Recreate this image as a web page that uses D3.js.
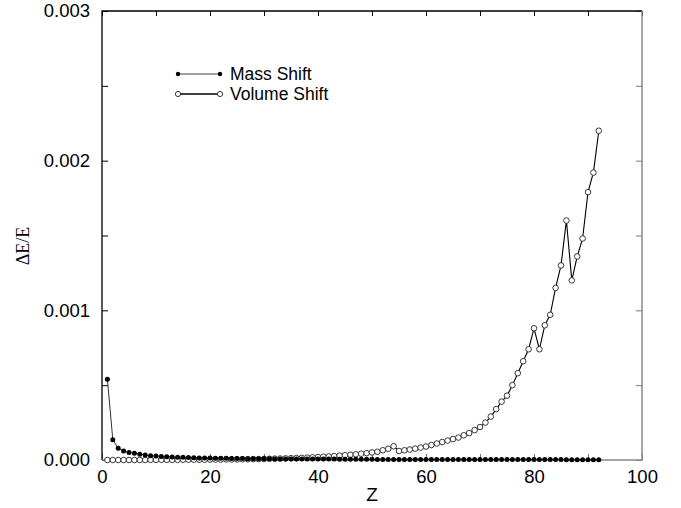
<!DOCTYPE html>
<meta charset="utf-8">
<style>
body { margin: 0; background: #fff; }
.tick text { font: 18.5px "Liberation Sans", Arial, sans-serif; fill: #000; }
.legend text { font: 17.5px "Liberation Sans", Arial, sans-serif; fill: #000; }
</style>
<svg width="681" height="508" id="chart"></svg>
<script src="https://d3js.org/d3.v7.min.js"></script>
<script>

// atomic number
var Z = [1,2,3,4,5,6,7,8,9,10,11,12,13,14,15,16,17,18,19,20,
  21,22,23,24,25,26,27,28,29,30,31,32,33,34,35,36,37,38,39,40,
  41,42,43,44,45,46,47,48,49,50,51,52,53,54,55,56,57,58,59,60,
  61,62,63,64,65,66,67,68,69,70,71,72,73,74,75,76,77,78,79,80,
  81,82,83,84,85,86,87,88,89,90,91,92];

// dE/E in units of 1e-6
var massShift = [540,136,78,60,50,45,39,34,29,27,24,22,20,19,18,17,15,14,14,14,
  12,11,11,10,10,10,9,9,9,8,8,7,7,7,7,6,6,6,6,6,
  6,6,6,5,5,5,5,5,5,5,4,4,4,4,4,4,4,4,4,4,
  4,4,4,3,3,3,3,3,3,3,3,3,3,3,3,3,3,3,3,3,
  3,3,3,3,3,2,2,2,2,2,2,2];

var volumeShift = [0,0,0,0,0,0,0,0,1,1,1,1,1,1,2,2,2,2,2,3,
  3,3,4,4,4,5,5,6,6,7,8,9,10,11,12,13,14,16,18,20,
  22,24,26,29,32,35,38,42,46,50,55,65,75,92,60,65,70,76,83,90,
  100,110,120,130,140,150,165,180,200,220,250,290,340,390,430,500,580,660,740,880,
  740,900,970,1150,1300,1600,1200,1360,1480,1790,1920,2200];

var xTicks = [0,10,20,30,40,50,60,70,80,90,100];
var yTicks = [0,500,1000,1500,2000,2500,3000];

var svg = d3.select("svg");

var x = d3.scaleLinear().domain([0, 100]).range([102, 642]);
var y = d3.scaleLinear().domain([0, 3000]).range([460, 11]);

function yFmt(d) { return d % 1000 ? "" : (d / 1e6).toFixed(3); }
function xFmt(d) { return d % 20 ? "" : d; }

// axes, ticks pointing inward
svg.append("g")
    .attr("transform", "translate(0,460)")
    .call(d3.axisBottom(x).tickValues(xTicks).tickSize(-6).tickPadding(10).tickFormat(xFmt))
    .call(g => g.select(".domain").remove())
    .call(g => g.selectAll("line").attr("stroke", "#777"));

svg.append("g")
    .attr("transform", "translate(0,11)")
    .call(d3.axisTop(x).tickValues(xTicks).tickSize(-5).tickFormat(""))
    .call(g => g.select(".domain").remove());

svg.append("g")
    .attr("transform", "translate(102,0)")
    .call(d3.axisLeft(y).tickValues(yTicks).tickSize(-6).tickPadding(12).tickFormat(yFmt))
    .call(g => g.select(".domain").remove());

svg.append("g")
    .attr("transform", "translate(642,0)")
    .call(d3.axisRight(y).tickValues(yTicks).tickSize(-6).tickFormat(""))
    .call(g => g.select(".domain").remove())
    .call(g => g.selectAll("line").attr("stroke", "#777"));

// frame
svg.append("path")
    .attr("d", "M102,460V11H642")
    .attr("fill", "none").attr("stroke", "#000").attr("stroke-width", 1.3);
svg.append("path")
    .attr("d", "M102,460H642V11")
    .attr("fill", "none").attr("stroke", "#888").attr("stroke-width", 1.5);

// axis titles
svg.append("text")
    .attr("x", 372).attr("y", 501)
    .attr("text-anchor", "middle")
    .style("font", "19px 'Liberation Sans', Arial, sans-serif")
    .text("Z");

svg.append("text")
    .attr("transform", "translate(29,246) rotate(-90)")
    .attr("text-anchor", "middle")
    .style("font", "18px 'Liberation Serif', 'Times New Roman', serif")
    .text("ΔE/E");

var line = d3.line()
    .x(function(d) { return x(d[0]); })
    .y(function(d) { return y(d[1]); });

var volData = Z.map(function(z, i) { return [z, volumeShift[i]]; });
var massData = Z.map(function(z, i) { return [z, massShift[i]]; });

// volume shift
svg.append("path")
    .datum(volData)
    .attr("d", line)
    .attr("fill", "none").attr("stroke", "#000").attr("stroke-width", 1.1);
svg.append("g").selectAll("circle")
    .data(volData)
    .enter().append("circle")
      .attr("cx", function(d) { return x(d[0]); })
      .attr("cy", function(d) { return y(d[1]); })
      .attr("r", 2.8)
      .attr("fill", "#fff").attr("stroke", "#222").attr("stroke-width", 0.9);

// mass shift
svg.append("path")
    .datum(massData)
    .attr("d", line)
    .attr("fill", "none").attr("stroke", "#333").attr("stroke-width", 1);
svg.append("g").selectAll("circle")
    .data(massData)
    .enter().append("circle")
      .attr("cx", function(d) { return x(d[0]); })
      .attr("cy", function(d) { return y(d[1]); })
      .attr("r", 2.5)
      .attr("fill", "#000");

// legend
var legend = svg.append("g").attr("class", "legend");
var items = [
  {label: "Mass Shift", y: 74, open: false},
  {label: "Volume Shift", y: 94, open: true}
];
items.forEach(function(it) {
  legend.append("line")
      .attr("x1", 178).attr("x2", 220).attr("y1", it.y).attr("y2", it.y)
      .attr("stroke", it.open ? "#000" : "#444")
      .attr("stroke-width", it.open ? 1.4 : 1);
  [178, 220].forEach(function(cx) {
    legend.append("circle")
        .attr("cx", cx).attr("cy", it.y)
        .attr("r", it.open ? 2.6 : 2.2)
        .attr("fill", it.open ? "#fff" : "#000")
        .attr("stroke", it.open ? "#222" : "none")
        .attr("stroke-width", 0.9);
  });
  legend.append("text")
      .attr("x", 230).attr("y", it.y + 6)
      .text(it.label);
});

</script>
